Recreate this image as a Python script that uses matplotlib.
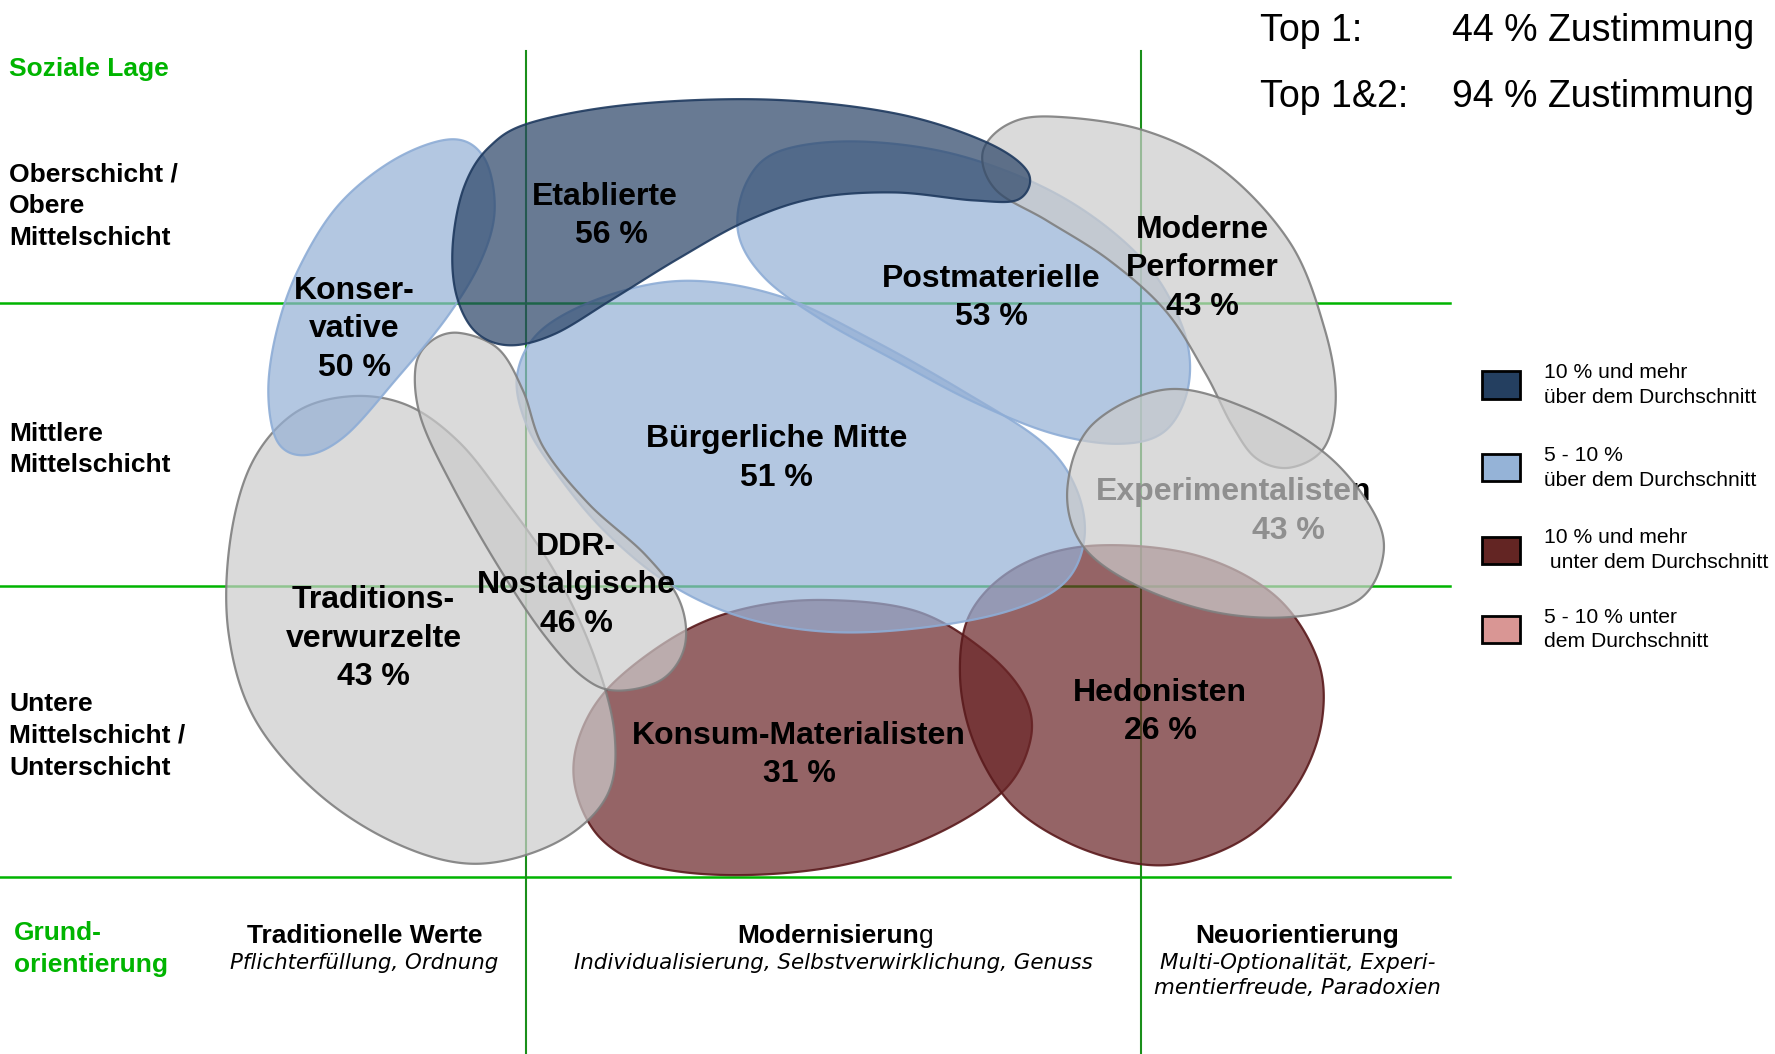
import numpy as np
import matplotlib.pyplot as plt

plt.rcParams['font.family'] = ['Liberation Sans', 'DejaVu Sans']

# milieus, share of agreement (%), sign of deviation from average
milieus = ['Konsum-Materialisten', 'Hedonisten', 'Bürgerliche Mitte', 'Postmaterielle',
           'Traditionsverwurzelte', 'DDR-Nostalgische', 'Konservative',
           'Moderne Performer', 'Etablierte', 'Experimentalisten']
zustimmung = [31, 26, 51, 53, 43, 46, 50, 43, 56, 43]
gruppe = ['unter10', 'unter10', 'ueber5', 'ueber5', 'mittel', 'mittel', 'ueber5',
          'mittel', 'ueber10', 'mittel']
label_lines = [['Konsum-Materialisten'], ['Hedonisten'], ['Bürgerliche Mitte'],
               ['Postmaterielle'], ['Traditions-', 'verwurzelte'], ['DDR-', 'Nostalgische'],
               ['Konser-', 'vative'], ['Moderne', 'Performer'], ['Etablierte'],
               ['Experimentalisten']]

schichten = [['Oberschicht /', 'Obere', 'Mittelschicht'],
             ['Mittlere', 'Mittelschicht'],
             ['Untere', 'Mittelschicht /', 'Unterschicht']]
werte = ['Traditionelle Werte', 'Modernisierung', 'Neuorientierung']
werte_sub = [['Pflichterfüllung, Ordnung'],
             ['Individualisierung, Selbstverwirklichung, Genuss'],
             ['Multi-Optionalität, Experi-', 'mentierfreude, Paradoxien']]
top_labels = ['Top 1:', 'Top 1&2:']
top_values = [44, 94]
legend_keys = ['ueber10', 'ueber5', 'unter10', 'unter5']
legend_text = [['10 % und mehr', 'über dem Durchschnitt'],
               ['5 - 10 %', 'über dem Durchschnitt'],
               ['10 % und mehr', ' unter dem Durchschnitt'],
               ['5 - 10 % unter', 'dem Durchschnitt']]

# blob outlines (control points, picture units)
outlines = [
    [(730, 530), (810, 540), (870, 575), (905, 615), (910, 655), (885, 700), (820, 740),
     (740, 765), (650, 773), (575, 765), (530, 740), (508, 695), (512, 650), (540, 605),
     (600, 560), (660, 537)],
    [(965, 482), (1055, 490), (1125, 525), (1163, 580), (1168, 635), (1148, 690),
     (1108, 735), (1055, 760), (1005, 763), (945, 745), (893, 710), (860, 655), (848, 595),
     (858, 540), (900, 500)],
    [(540, 260), (610, 248), (690, 262), (770, 300), (850, 345), (920, 390), (950, 430),
     (958, 475), (940, 515), (890, 540), (810, 555), (730, 558), (655, 545), (590, 515),
     (535, 470), (493, 420), (465, 375), (457, 330), (480, 290)],
    [(690, 133), (760, 125), (850, 138), (940, 175), (1010, 230), (1045, 290), (1050, 340),
     (1030, 380), (990, 392), (930, 383), (860, 355), (790, 318), (725, 282), (675, 245),
     (652, 205), (660, 160)],
    [(310, 350), (360, 358), (405, 390), (445, 440), (490, 505), (525, 580), (543, 650),
     (535, 705), (490, 745), (420, 763), (350, 745), (280, 700), (225, 635), (202, 560),
     (203, 480), (222, 410), (260, 365)],
    [(405, 294), (440, 308), (462, 345), (480, 395), (520, 445), (570, 490), (600, 530),
     (605, 570), (585, 600), (545, 610), (515, 598), (480, 560), (440, 500), (400, 430),
     (372, 370), (367, 325), (380, 302)],
    [(400, 123), (428, 140), (437, 185), (425, 230), (395, 280), (350, 335), (305, 385),
     (270, 402), (245, 390), (237, 345), (245, 290), (265, 235), (300, 180), (350, 140)],
    [(930, 103), (1010, 115), (1080, 150), (1140, 215), (1170, 290), (1180, 350),
     (1170, 395), (1140, 413), (1110, 405), (1088, 375), (1065, 330), (1030, 275),
     (980, 230), (925, 195), (880, 168), (868, 135), (890, 110)],
    [(470, 108), (560, 92), (680, 88), (790, 100), (870, 125), (908, 152), (900, 176),
     (860, 177), (790, 170), (720, 175), (660, 195), (600, 228), (540, 265), (490, 295),
     (450, 305), (420, 293), (403, 260), (400, 215), (410, 165), (432, 130)],
    [(1030, 344), (1100, 360), (1170, 400), (1212, 450), (1222, 490), (1200, 530),
     (1140, 545), (1070, 540), (1000, 515), (955, 480), (943, 430), (965, 375)],
]
label_pos = [(706, 650), (1025, 612), (686, 388), (876, 246), (330, 530), (509, 483),
             (313, 257), (1062, 203), (534, 174), (1090, 435)]

fill = {'ueber10': '#2a4467', 'ueber5': '#95b0d5', 'unter10': '#6a2527', 'mittel': '#cbcbcb'}
edge = {'ueber10': '#1f3a5f', 'ueber5': '#8eadd6', 'unter10': '#5a1a1c', 'mittel': '#7f7f7f'}
legend_fill = {'ueber10': '#243f60', 'ueber5': '#95b3d7', 'unter10': '#632523', 'unter5': '#d99694'}
green = '#00b400'


def smooth(pts, n=40):
    p = np.asarray(pts, float)
    m = len(p)
    t = np.linspace(0, 1, n, endpoint=False)[:, None]
    out = []
    for i in range(m):
        p0, p1, p2, p3 = p[i - 1], p[i], p[(i + 1) % m], p[(i + 2) % m]
        out.append(0.5 * (2 * p1 + (-p0 + p2) * t + (2 * p0 - 5 * p1 + 4 * p2 - p3) * t ** 2
                          + (-p0 + 3 * p1 - 3 * p2 + p3) * t ** 3))
    return np.vstack(out)


fig = plt.figure(figsize=(17.75, 10.54), dpi=100)
ax = fig.add_axes([0, 0, 1, 1])
ax.set_xlim(0, 1568)
ax.set_ylim(931, 0)
ax.axis('off')

# grid
for y in [268, 518, 775]:
    ax.plot([0, 1281], [y, y], color=green, lw=1.8, zorder=1)
for x in [465, 1008]:
    ax.plot([x, x], [45, 931], color='#1a8f1a', lw=1.5, zorder=1)

# blobs
for i, (name, pts) in enumerate(zip(milieus, outlines)):
    xy = smooth(pts)
    g = gruppe[i]
    ax.fill(xy[:, 0], xy[:, 1], facecolor=fill[g], alpha=0.71, edgecolor='none', zorder=2 + i)
    ax.fill(xy[:, 0], xy[:, 1], facecolor='none', edgecolor=edge[g], lw=1.6, alpha=0.9,
            zorder=2 + i)
    lines = label_lines[i] + [f'{zustimmung[i]} %']
    x0, y0 = label_pos[i]
    # the Experimentalisten label sits under its own blob, so it shows grey
    z = 1.5 + i if name == 'Experimentalisten' else 30
    for k, s in enumerate(lines):
        xx = x0 + 48 if (name == 'Experimentalisten' and k == 1) else x0
        xx = x0 + 6 if (name == 'Etablierte' and k == 1) else xx
        ax.text(xx, y0 + 34 * k, s, ha='center', va='center', fontsize=23,
                fontweight='bold', color='black', zorder=z)

# left axis labels
ax.text(8, 61, 'Soziale Lage', color=green, fontsize=19, fontweight='bold', va='center')
for lines, y0 in zip(schichten, [154, 383, 622]):
    for k, s in enumerate(lines):
        ax.text(8, y0 + 28 * k, s, fontsize=19, fontweight='bold', va='center')
ax.text(12, 824, 'Grund-', color=green, fontsize=19, fontweight='bold', va='center')
ax.text(12, 852, 'orientierung', color=green, fontsize=19, fontweight='bold', va='center')

# bottom axis labels
for s, subs, x0 in zip(werte, werte_sub, [322, 736, 1146]):
    if s == 'Modernisierung':
        # the last letter is not bold in the original
        ax.text(x0 + 76, 827, s[:-1], ha='right', va='center', fontsize=19, fontweight='bold')
        ax.text(x0 + 76, 827, s[-1], ha='left', va='center', fontsize=19)
    else:
        ax.text(x0, 827, s, ha='center', va='center', fontsize=19, fontweight='bold')
    for k, t in enumerate(subs):
        ax.text(x0, 851 + 22 * k, t, ha='center', va='center', fontsize=15.4,
                style='italic', family='DejaVu Sans')

# top right
for k, (s, v) in enumerate(zip(top_labels, top_values)):
    ax.text(1113, 27 + 59 * k, s, fontsize=27, va='center')
    ax.text(1283, 27 + 59 * k, f'{v} % Zustimmung', fontsize=27, va='center')

# legend
for k, (key, txt) in enumerate(zip(legend_keys, legend_text)):
    yc = [340, 413, 486, 556][k]
    ax.add_patch(plt.Rectangle((1309, yc - 12), 34, 24, facecolor=legend_fill[key],
                               edgecolor='black', lw=2, zorder=5))
    ax.text(1364, yc - 11, txt[0], fontsize=15.2, va='center')
    ax.text(1364, yc + 11, txt[1], fontsize=15.2, va='center')

fig.savefig('out.png', dpi=100)
